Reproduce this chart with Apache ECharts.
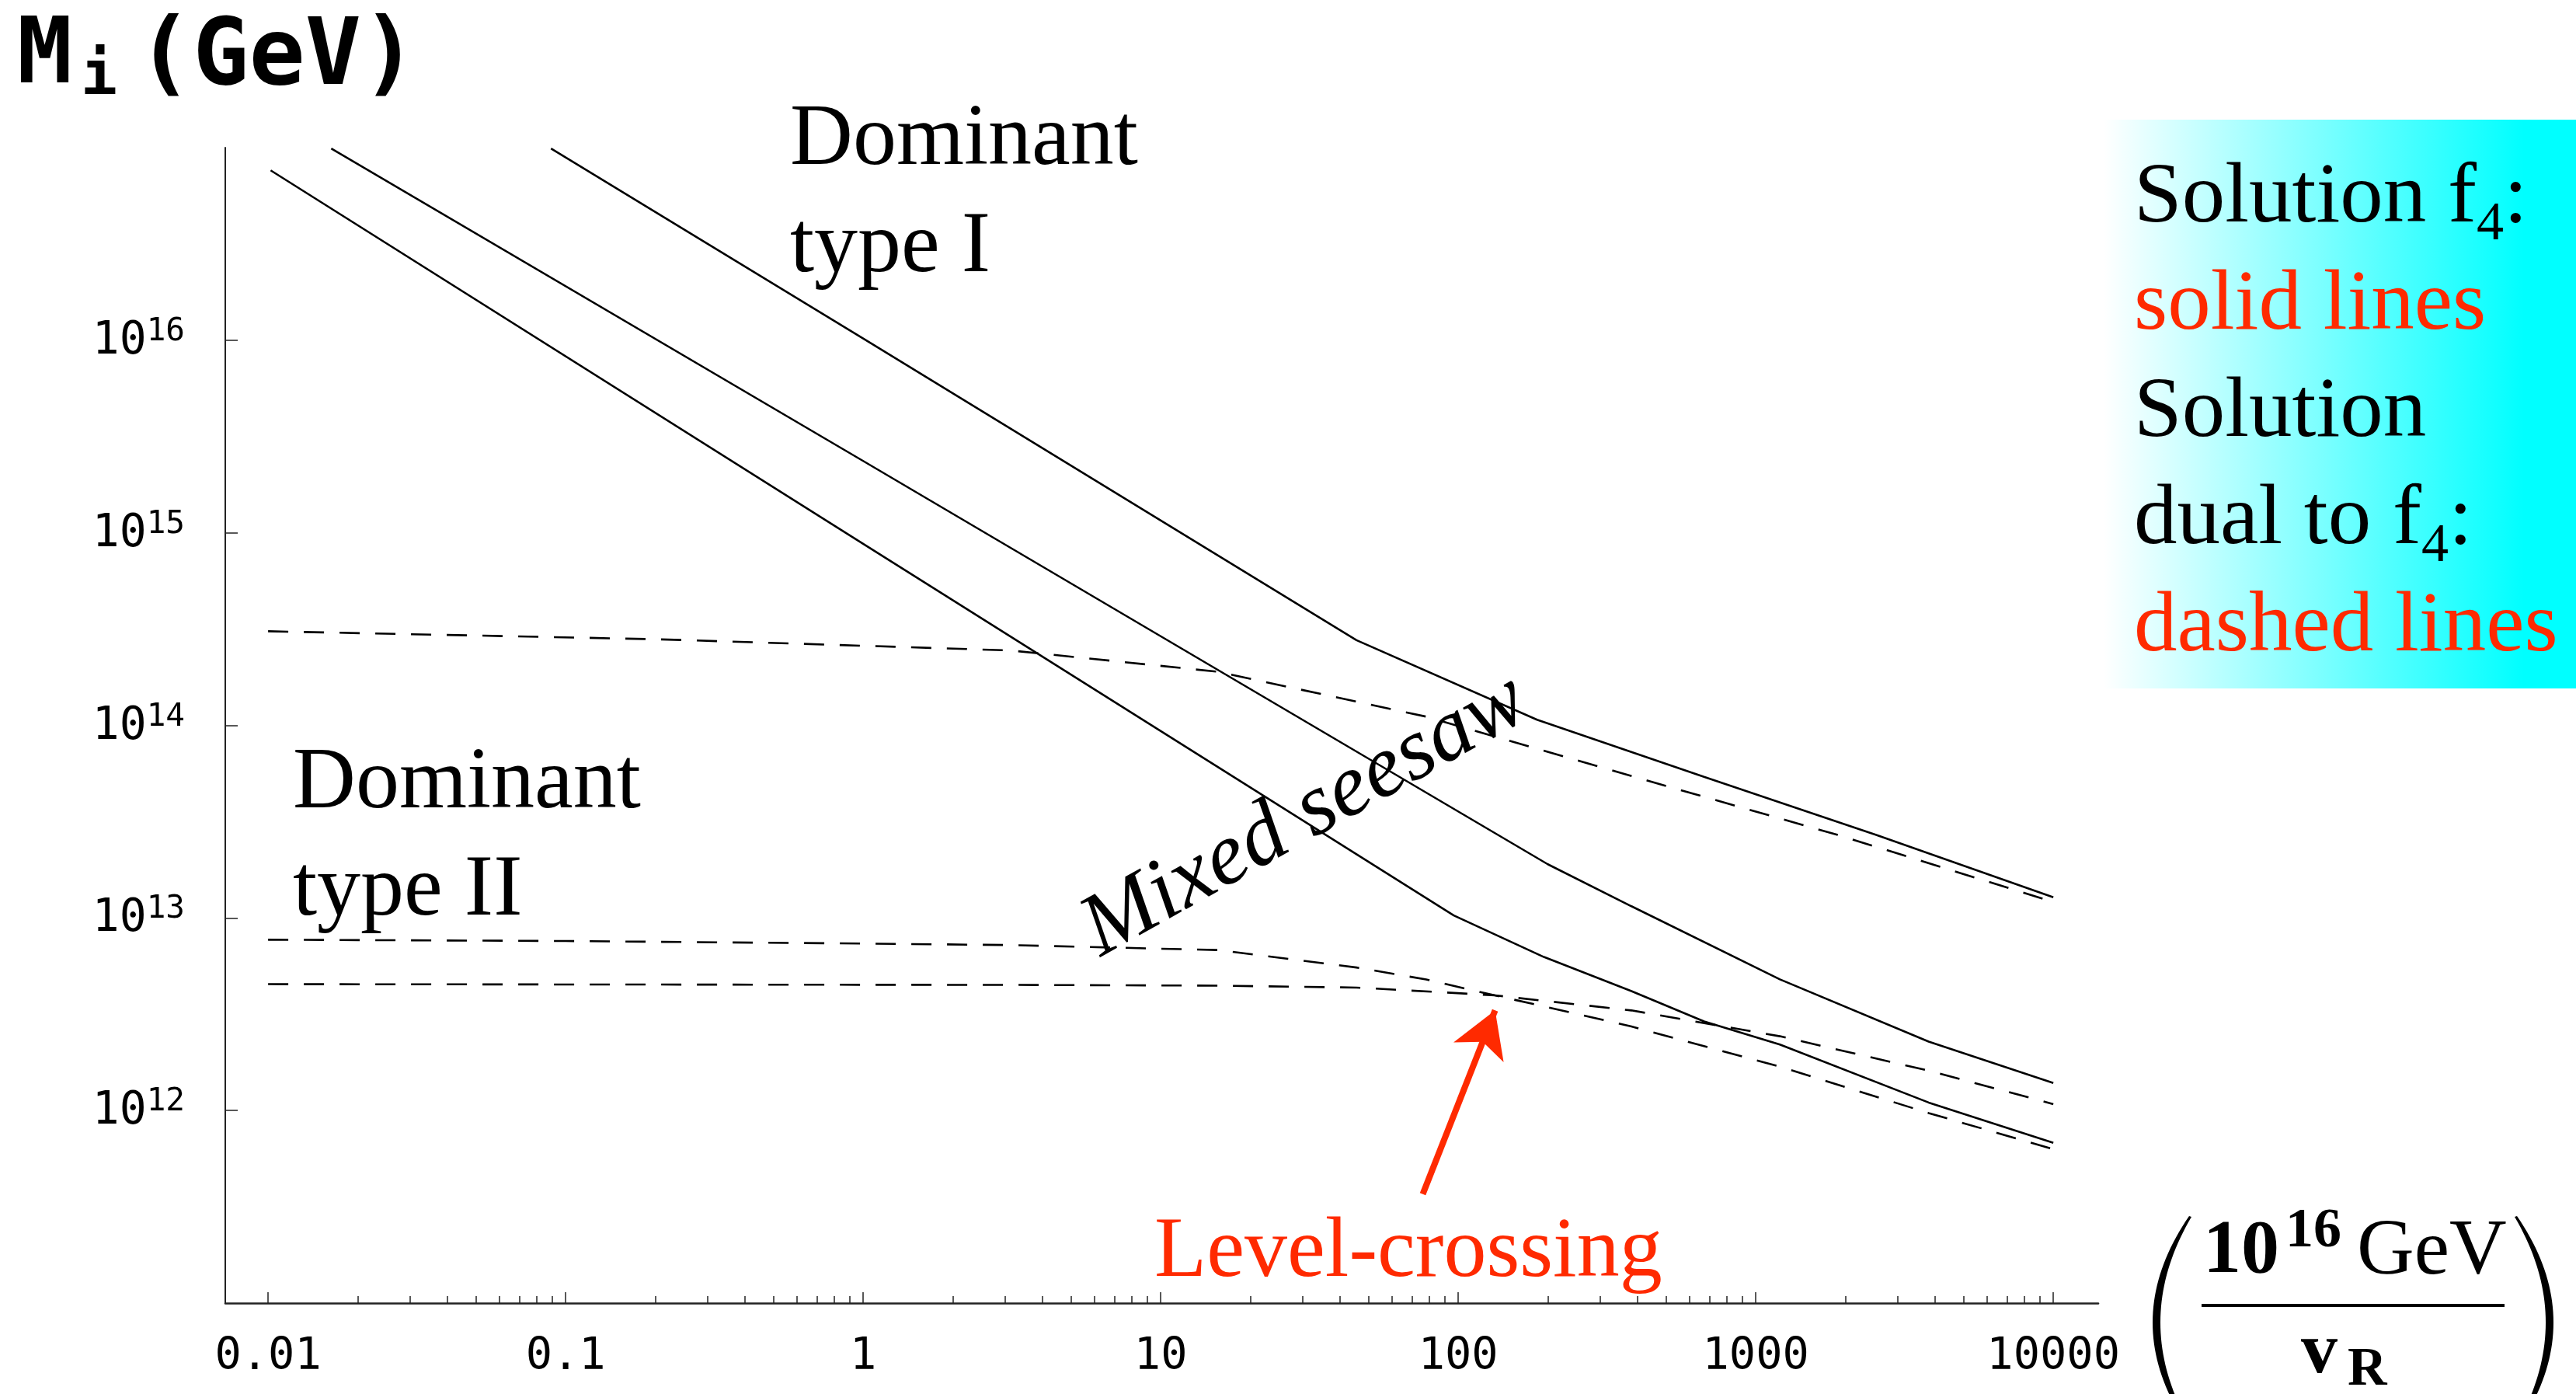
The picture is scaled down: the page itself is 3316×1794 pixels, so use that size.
<!DOCTYPE html>
<html>
<head>
<meta charset="utf-8">
<script src="https://cdn.jsdelivr.net/npm/echarts@6/dist/echarts.min.js"></script>
<style>
  html, body { margin: 0; padding: 0; background: #fff; }
  #chart { width: 3316px; height: 1794px; }
</style>
</head>
<body>
<div id="chart"></div>
<script>
// tick values
const xTicks = [0.01, 0.1, 1, 10, 100, 1000, 10000];
const xMinorTicks = [];
for (let k = -2; k <= 3; k++) {
  for (let m = 2; m <= 9; m++) xMinorTicks.push(m * Math.pow(10, k));
}
const yTicks = [1e12, 1e13, 1e14, 1e15, 1e16];

// solid lines (solution f4)
const solid1X = [0.0102, 1, 96.6, 194, 382, 670, 1205, 3811, 10000];
const solid1Y = [7.62e16, 8.77e14, 1.03e13, 6.27e12, 4.17e12, 2.9e12, 2.2e12, 1.1e12, 6.8e11];
const solid2X = [0.0163, 1, 200, 382, 1205, 3811, 10000];
const solid2Y = [9.9e16, 2.36e15, 1.9e13, 1.15e13, 4.8e12, 2.28e12, 1.39e12];
const solid3X = [0.0893, 1, 45.5, 184, 670, 2540, 10000];
const solid3Y = [9.9e16, 1.02e16, 2.77e14, 1.07e14, 5.4e13, 2.7e13, 1.28e13];

// dashed lines (solution dual to f4)
const dashAX = [0.01, 0.203, 3.12, 15.5, 78, 391, 1945, 10000];
const dashAY = [3.08e14, 2.8e14, 2.45e14, 1.9e14, 1.11e14, 5.4e13, 2.66e13, 1.21e13];
const dashBX = [0.01, 0.1, 1, 3.12, 15.6, 45.5, 78, 133, 254, 382, 1205, 3811, 10000];
const dashBY = [7.71e12, 7.59e12, 7.36e12, 7.23e12, 6.81e12, 5.53e12, 4.79e12, 3.96e12, 3.16e12, 2.73e12, 1.69e12, 9.7e11, 6.3e11];
const dashCX = [0.01, 3.12, 15.6, 45.5, 102, 133, 382, 1205, 3811, 10000];
const dashCY = [4.53e12, 4.49e12, 4.45e12, 4.35e12, 4.06e12, 3.96e12, 3.31e12, 2.43e12, 1.61e12, 1.08e12];

// arrow pointing at the level crossing
const arrowFrom = [76, 3.68e11];
const arrowTo = [133, 3.31e12];

const red = '#ff2a00';
const serif = '"Liberation Serif", "Times New Roman", serif';
const mono = '"DejaVu Sans Mono", monospace';

function pairs(xs, ys) {
  return xs.map((x, i) => [x, ys[i]]);
}

function lineSeries(name, xs, ys, dashed) {
  return {
    name: name,
    type: 'line',
    data: pairs(xs, ys),
    symbol: 'none',
    smooth: false,
    silent: true,
    lineStyle: {
      color: '#000',
      width: 2.6,
      type: dashed ? [26, 20] : 'solid'
    }
  };
}

function txt(x, y, text, font, opts) {
  return Object.assign({
    type: 'text',
    x: x,
    y: y,
    silent: true,
    style: Object.assign({
      text: text,
      font: font,
      fill: '#000',
      align: 'left',
      verticalAlign: 'middle',
      textAlign: 'left',
      textVerticalAlign: 'middle'
    }, (opts && opts.style) || {})
  }, (opts && opts.el) || {});
}

// quadratic bezier paren outline as polygon
function paren(p0, c, p2, q0, d, q2) {
  const pts = [];
  const n = 40;
  for (let i = 0; i <= n; i++) {
    const t = i / n;
    pts.push([
      (1 - t) * (1 - t) * p0[0] + 2 * t * (1 - t) * c[0] + t * t * p2[0],
      (1 - t) * (1 - t) * p0[1] + 2 * t * (1 - t) * c[1] + t * t * p2[1]
    ]);
  }
  for (let i = n; i >= 0; i--) {
    const t = i / n;
    pts.push([
      (1 - t) * (1 - t) * q0[0] + 2 * t * (1 - t) * d[0] + t * t * q2[0],
      (1 - t) * (1 - t) * q0[1] + 2 * t * (1 - t) * d[1] + t * t * q2[1]
    ]);
  }
  return { type: 'polygon', silent: true, shape: { points: pts }, style: { fill: '#000' } };
}

const chartInstance = echarts.init(document.getElementById('chart'), null, { renderer: 'canvas' });

const legendRich = {
  k: { font: '111px ' + serif, fill: '#000', color: '#000', lineHeight: 138 },
  r: { font: '111px ' + serif, fill: red, color: red, lineHeight: 138 },
  sub: { font: '70px ' + serif, fill: '#000', color: '#000', lineHeight: 86, verticalAlign: 'bottom' }
};

const option = {
  animation: false,
  backgroundColor: '#fff',
  grid: {
    left: 290,
    right: 615,
    top: 190,
    bottom: 117,
    containLabel: false,
    outerBoundsMode: 'none'
  },
  xAxis: [
    {
      type: 'log',
      logBase: 10,
      min: 0.00718,
      max: 14158,
      position: 'bottom',
      axisLine: { show: true, onZero: false, lineStyle: { color: '#222', width: 2.5 } },
      axisTick: { show: true, inside: true, length: 14, customValues: xTicks, lineStyle: { color: '#222', width: 1.5 } },
      axisLabel: {
        show: true,
        customValues: xTicks,
        margin: 40,
        color: '#000',
        fontFamily: mono,
        fontSize: 57,
        lineHeight: 60,
        formatter: v => String(v)
      },
      splitLine: { show: false },
      minorTick: { show: false }
    },
    {
      type: 'log',
      logBase: 10,
      min: 0.00718,
      max: 14158,
      position: 'bottom',
      axisLine: { show: false, onZero: false },
      axisTick: { show: true, inside: true, length: 9, customValues: xMinorTicks, lineStyle: { color: '#222', width: 1.5 } },
      axisLabel: { show: false },
      splitLine: { show: false }
    }
  ],
  yAxis: {
    type: 'log',
    logBase: 10,
    min: 1e11,
    max: 1e17,
    axisLine: { show: true, onZero: false, lineStyle: { color: '#222', width: 2 } },
    axisTick: { show: true, inside: true, length: 16, customValues: yTicks, lineStyle: { color: '#222', width: 1.5 } },
    axisLabel: {
      show: true,
      customValues: yTicks,
      margin: 52,
      color: '#000',
      padding: [4, 0, 0, 0],
      formatter: v => '{b|10}{s|' + Math.round(Math.log10(v)) + '}',
      rich: {
        b: { fontFamily: mono, fontSize: 58, lineHeight: 66, color: '#000' },
        s: { fontFamily: mono, fontSize: 41, lineHeight: 22, verticalAlign: 'top', color: '#000' }
      }
    },
    splitLine: { show: false }
  },
  series: [
    Object.assign(lineSeries('solid1', solid1X, solid1Y, false), {
      markLine: {
        silent: true,
        animation: false,
        symbol: ['none', 'arrow'],
        symbolSize: [52, 58],
        label: { show: false },
        lineStyle: { color: red, width: 8, type: 'solid' },
        emphasis: { disabled: true },
        data: [[{ coord: arrowFrom }, { coord: arrowTo }]]
      }
    }),
    lineSeries('solid2', solid2X, solid2Y, false),
    lineSeries('solid3', solid3X, solid3Y, false),
    lineSeries('dashA', dashAX, dashAY, true),
    lineSeries('dashB', dashBX, dashBY, true),
    lineSeries('dashC', dashCX, dashCY, true)
  ],
  graphic: [
    // axis title M_i (GeV)
    txt(22, 75, 'M', 'bold 118px ' + mono),
    txt(104, 101, 'i', 'bold 78px ' + mono),
    txt(176, 77, '(GeV)', 'bold 120px ' + mono),

    // region annotations
    txt(1017, 113, 'Dominant\ntype I', '112px ' + serif, { style: { verticalAlign: 'top', textVerticalAlign: 'top', lineHeight: 138 } }),
    txt(377, 941, 'Dominant\ntype II', '112px ' + serif, { style: { verticalAlign: 'top', textVerticalAlign: 'top', lineHeight: 138 } }),
    txt(1680, 1050, 'Mixed seesaw', 'italic 114px ' + serif, {
      style: { align: 'center', textAlign: 'center' },
      el: { rotation: 0.51 }
    }),
    txt(1486, 1613, 'Level-crossing', '110px ' + serif, { style: { fill: red } }),

    // legend box
    {
      type: 'rect',
      silent: true,
      z: -1,
      shape: { x: 2708, y: 154, width: 608, height: 732 },
      style: {
        fill: new echarts.graphic.LinearGradient(0, 0, 1, 0, [
          { offset: 0, color: '#ffffff' },
          { offset: 0.89, color: '#00ffff' },
          { offset: 1, color: '#00ffff' }
        ])
      }
    },
    txt(2747, 187, '{k|Solution f}{sub|4}{k|:}\n{r|solid lines}\n{k|Solution}\n{k|dual to f}{sub|4}{k|:}\n{r|dashed lines}', '111px ' + serif, {
      style: { verticalAlign: 'top', textVerticalAlign: 'top', rich: legendRich }
    }),

    // x axis title (10^16 GeV / v_R)
    paren([2818, 1565], [2724, 1702], [2818, 1839], [2821, 1566], [2741, 1702], [2821, 1838]),
    paren([3240, 1565], [3334, 1702], [3240, 1839], [3237, 1566], [3317, 1702], [3237, 1838]),
    { type: 'rect', silent: true, shape: { x: 2834, y: 1678, width: 390, height: 4 }, style: { fill: '#000' } },
    txt(2836, 1612, '10', 'bold 98px ' + serif),
    txt(2942, 1585, '16', 'bold 72px ' + serif),
    txt(3034, 1612, 'GeV', '102px ' + serif),
    txt(2962, 1742, 'v', 'bold 94px ' + serif),
    txt(3022, 1764, 'R', 'bold 70px ' + serif)
  ]
};

chartInstance.setOption(option);
window.addEventListener('resize', () => chartInstance.resize());
</script>
</body>
</html>
